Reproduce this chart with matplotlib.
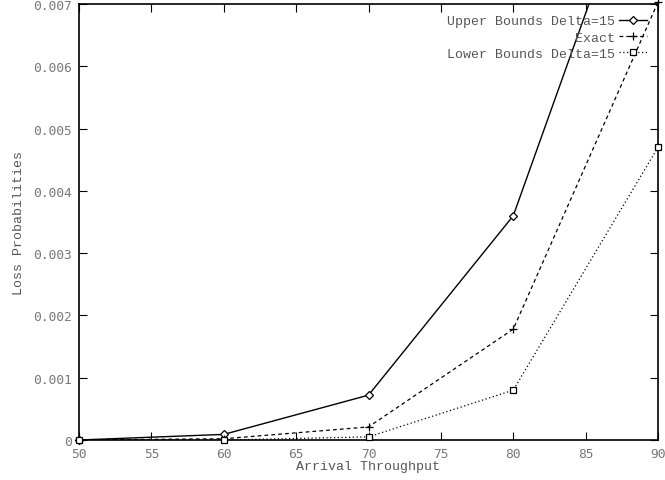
import matplotlib
matplotlib.use("Agg")
import matplotlib.pyplot as plt
import numpy as np

x_vals = [50, 60, 70, 80, 90]
upper = [0.0, 0.00009, 0.00072, 0.0036, 0.0101]
exact = [0.0, 0.00002, 0.00021, 0.00178, 0.00703]
lower = [0.0, 0.0, 0.00005, 0.0008, 0.0047]

x_ticks = [50, 55, 60, 65, 70, 75, 80, 85, 90]
y_ticks = [0, 0.001, 0.002, 0.003, 0.004, 0.005, 0.006, 0.007]
y_tick_labels = ["0", "0.001", "0.002", "0.003", "0.004", "0.005", "0.006", "0.007"]

label_font = ['Liberation Mono', 'DejaVu Sans Mono']
tick_font = ['DejaVu Sans Mono']
plt.rcParams['font.family'] = label_font

fig = plt.figure(figsize=(6.65, 4.81), dpi=100)
ax = fig.add_axes([79/665, 1-441/481, (658-79)/665, (441-5)/481])

ymax = 0.00705
styles = [
    (upper, dict(color='black', lw=1.0, ls='-'), dict(marker='D', ms=4, mfc='white', mec='black', mew=0.9), 'Upper Bounds Delta=15'),
    (exact, dict(color='black', lw=0.9, ls=(0, (3, 2.5))), dict(marker='+', ms=6, mec='black', mew=0.9), 'Exact'),
    (lower, dict(color='black', lw=0.9, ls=(0, (1, 2))), dict(marker='s', ms=5, mfc='white', mec='black', mew=0.9), 'Lower Bounds Delta=15'),
]
handles = []
for ys, lkw, mkw, lab in styles:
    ax.plot(x_vals, ys, **lkw, clip_on=True)
    xs = np.array(x_vals)
    ya = np.array(ys)
    keep = ya <= ymax
    ax.plot(xs[keep], ya[keep], ls='none', clip_on=False, zorder=3, **mkw)
    h, = ax.plot([], [], **lkw, **mkw, label=lab)
    handles.append(h)

ax.set_xlim(50, 90)
ax.set_ylim(0, 0.007)
ax.set_xticks(x_ticks)
ax.set_xticklabels([str(v) for v in x_ticks])
ax.set_yticks(y_ticks)
ax.set_yticklabels(y_tick_labels)

ax.tick_params(direction='in', length=6, width=0.8, top=True, right=True,
               labelsize=9.3, labelcolor='#777777', pad=5)
for lab in ax.get_xticklabels() + ax.get_yticklabels():
    lab.set_family(tick_font)
for s in ax.spines.values():
    s.set_linewidth(1.2)

ax.set_xlabel('Arrival Throughput', fontsize=9.5, color='#555555', labelpad=0)
ax.set_ylabel('Loss Probabilities', fontsize=9.5, color='#555555', labelpad=6)

leg = ax.legend(handles=handles, loc='upper right', frameon=False, markerfirst=False, fontsize=9.5,
                handlelength=2.1, handletextpad=0.3, labelspacing=0.3,
                borderaxespad=0.45, bbox_to_anchor=(1.0, 1.0))
for t in leg.get_texts():
    t.set_color('#555555')
    t.set_ha('right')
leg._legend_box.align = 'right'

fig.savefig('out.png', dpi=100)
